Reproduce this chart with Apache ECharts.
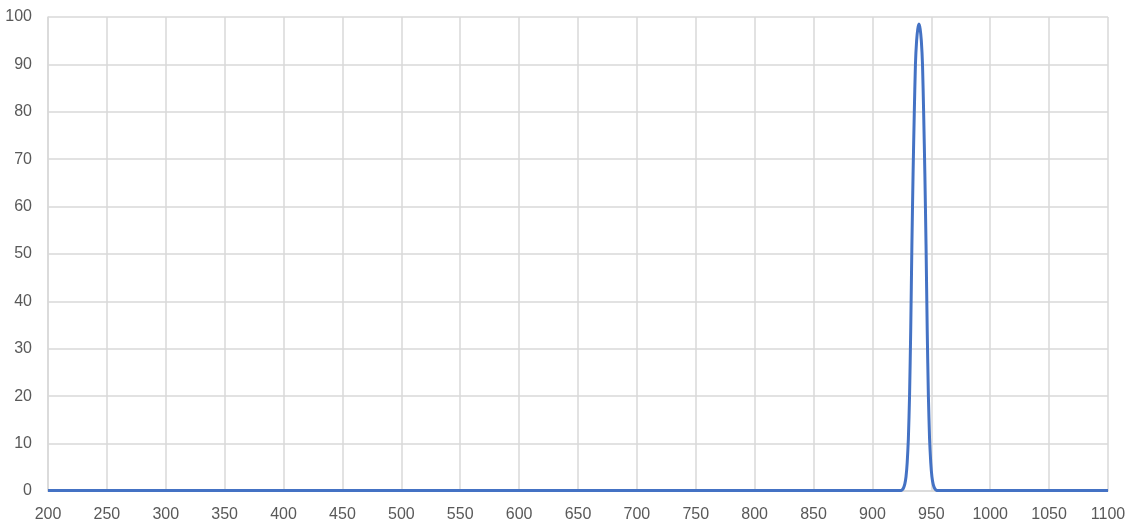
<!DOCTYPE html>
<html>
<head>
<meta charset="utf-8">
<script src="https://cdn.jsdelivr.net/npm/echarts@6/dist/echarts.min.js"></script>
<style>
html,body{margin:0;padding:0;background:#fff;}
#chart{width:1134px;height:528px;}
</style>
</head>
<body>
<div id="chart"></div>
<script>
// Wavelength (nm) and transmission (%)
const wavelengths = [200, 300, 400, 500, 600, 700, 800, 900, 915, 922.5, 924.5, 925.5, 926.5, 927.5, 928.5, 929.5, 930.5, 931.5, 932.5, 933.5, 934.5, 935.5, 936.5, 937.5, 938.5, 939.5, 940.5, 941.5, 942.5, 943.5, 944.5, 945.5, 946.5, 947.5, 948.5, 949.5, 950.5, 951.5, 952.5, 953.5, 954.5, 956.5, 965, 1000, 1050, 1100];
const transmission = [0.1, 0.1, 0.1, 0.1, 0.1, 0.1, 0.1, 0.1, 0.1, 0.1, 0.1, 0.3, 0.7, 1.5, 3, 6, 11, 20, 34, 52, 67, 79.5, 90, 95, 97.5, 98.5, 97.5, 95, 90, 79.5, 67, 52, 34, 20, 11, 6, 3, 1.5, 0.7, 0.3, 0.1, 0.1, 0.1, 0.1, 0.1, 0.1];
const xTicks = [200, 250, 300, 350, 400, 450, 500, 550, 600, 650, 700, 750, 800, 850, 900, 950, 1000, 1050, 1100];
const yTicks = [0, 10, 20, 30, 40, 50, 60, 70, 80, 90, 100];

const chart = echarts.init(document.getElementById('chart'));
const font = '"Liberation Sans", Arial, sans-serif';
chart.setOption({
  animation: false,
  backgroundColor: '#ffffff',
  grid: { left: 48, right: 26, top: 17, bottom: 37, containLabel: false },
  xAxis: {
    type: 'value',
    min: xTicks[0], max: xTicks[xTicks.length - 1], interval: 50,
    axisLine: { show: true, lineStyle: { color: '#d9d9d9', width: 1.5 } },
    axisTick: { show: false },
    axisLabel: { color: '#595959', fontSize: 16, fontFamily: font, margin: 16, formatter: v => String(v) },
    splitLine: { show: true, lineStyle: { color: '#d9d9d9', width: 1.5 } }
  },
  yAxis: {
    type: 'value',
    min: yTicks[0], max: yTicks[yTicks.length - 1], interval: 10,
    axisLine: { show: true, lineStyle: { color: '#d9d9d9', width: 1.5 } },
    axisTick: { show: false },
    axisLabel: { color: '#595959', fontSize: 16, fontFamily: font, margin: 16, formatter: v => String(v) },
    splitLine: { show: true, lineStyle: { color: '#d9d9d9', width: 1.5 } }
  },
  series: [{
    type: 'line',
    data: wavelengths.map((w, i) => [w, transmission[i]]),
    showSymbol: false,
    smooth: 0.2,
    lineStyle: { color: '#4472c4', width: 3 },
    itemStyle: { color: '#4472c4' }
  }]
});
</script>
</body>
</html>
